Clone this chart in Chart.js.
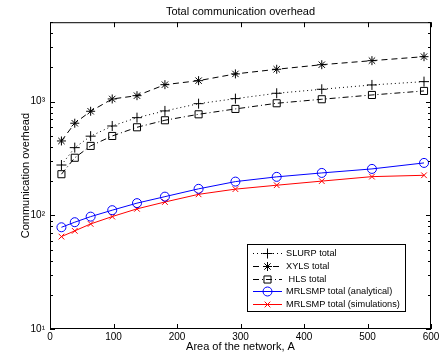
<!DOCTYPE html>
<html>
<head>
<meta charset="utf-8">
<script src="https://cdn.jsdelivr.net/npm/chart.js@4/dist/chart.umd.min.js"></script>
<style>
  html, body { margin: 0; padding: 0; background: #fff; }
</style>
</head>
<body>
<canvas id="chart" width="448" height="358"></canvas>
<script>
// Area of the network (x values)
const areas = [18, 39, 64, 98, 137, 181, 234, 292, 357, 428, 507, 589];

// Overhead per protocol
const slurpTotal = [277, 394, 497, 611, 723, 829, 960, 1063, 1185, 1285, 1403, 1500];
const xylsTotal  = [451, 646, 823, 1056, 1129, 1411, 1530, 1754, 1927, 2114, 2295, 2488];
const hlsTotal   = [230, 321, 408, 499, 595, 686, 774, 863, 968, 1050, 1145, 1242];
const mrlsmpAnalytical  = [78.5, 87, 97.4, 111, 128, 146, 171, 198, 218, 236, 256, 289];
const mrlsmpSimulations = [65, 73, 84, 97.5, 114, 131, 153, 170, 184, 200, 219, 225];

const seriesNames = ['SLURP total', 'XYLS total', ' HLS total', 'MRLSMP total (analytical)', 'MRLSMP total (simulations)'];
const xTicks = [0, 100, 200, 300, 400, 500, 600];
const yTicks = [10, 100, 1000];
const yTickLabels = ['10\u00b9', '10\u00b2', '10\u00b3'];

const FONT = 'Liberation Sans, Arial, Helvetica, sans-serif';

function pts(ys) {
    return areas.map((a, i) => ({ x: a, y: ys[i] }));
}

const datasets = [
    { label: seriesNames[0], data: pts(slurpTotal), borderColor: '#000', borderDash: [1, 3], pointStyle: 'cross', pointRadius: 5 },
    { label: seriesNames[1], data: pts(xylsTotal), borderColor: '#000', borderDash: [6, 4], pointStyle: 'star', pointRadius: 4.5 },
    { label: seriesNames[2], data: pts(hlsTotal), borderColor: '#000', borderDash: [6, 3, 1, 3], pointStyle: 'rect', pointRadius: 5 },
    { label: seriesNames[3], data: pts(mrlsmpAnalytical), borderColor: '#0000ff', borderDash: [], pointStyle: 'circle', pointRadius: 4.5 },
    { label: seriesNames[4], data: pts(mrlsmpSimulations), borderColor: '#ff0000', borderDash: [], pointStyle: 'crossRot', pointRadius: 4 }
].map(d => Object.assign(d, {
    borderWidth: 1,
    pointBorderColor: d.borderColor,
    pointBackgroundColor: 'rgba(0,0,0,0)',
    pointBorderWidth: 1,
    pointHoverRadius: d.pointRadius,
    tension: 0,
    fill: false
}));

// box, inward ticks and minor log ticks like matlab axes
const axesBox = {
    id: 'axesBox',
    afterDraw(chart) {
        const { ctx, chartArea: a } = chart;
        const xs = chart.scales.x, ys = chart.scales.y;
        ctx.save();
        ctx.strokeStyle = '#000';
        ctx.lineWidth = 1;
        ctx.strokeRect(a.left + 0.5, a.top + 0.5, a.right - a.left - 1, a.bottom - a.top - 1);
        ctx.beginPath();
        xTicks.forEach(v => {
            const px = Math.round(xs.getPixelForValue(v)) + 0.5;
            ctx.moveTo(px, a.bottom); ctx.lineTo(px, a.bottom - 5);
            ctx.moveTo(px, a.top); ctx.lineTo(px, a.top + 5);
        });
        for (let dec = 10; dec < 5000; dec *= 10) {
            for (let m = 1; m <= 9; m++) {
                const v = dec * m;
                if (v > 5000) break;
                const len = m === 1 ? 5 : 3;
                const py = Math.round(ys.getPixelForValue(v)) + 0.5;
                ctx.moveTo(a.left, py); ctx.lineTo(a.left + len, py);
                ctx.moveTo(a.right, py); ctx.lineTo(a.right - len, py);
            }
        }
        ctx.stroke();
        ctx.restore();
    }
};

// legend drawn inside the axes, lower right
const boxLegend = {
    id: 'boxLegend',
    afterDraw(chart) {
        const { ctx } = chart;
        const bx = 247, by = 244, bw = 158, bh = 67;
        ctx.save();
        ctx.fillStyle = '#fff';
        ctx.fillRect(bx, by, bw, bh);
        ctx.strokeStyle = '#000';
        ctx.lineWidth = 1;
        ctx.strokeRect(bx + 0.5, by + 0.5, bw, bh);
        chart.data.datasets.forEach((d, i) => {
            const y = by + 9 + i * 12.8;
            ctx.strokeStyle = d.borderColor;
            ctx.setLineDash(d.borderDash);
            ctx.beginPath();
            ctx.moveTo(253, Math.round(y) + 0.5);
            ctx.lineTo(282, Math.round(y) + 0.5);
            ctx.stroke();
            ctx.setLineDash([]);
            ctx.fillStyle = 'rgba(0,0,0,0)';
            Chart.helpers.drawPoint(ctx, { pointStyle: d.pointStyle, radius: d.pointRadius, borderWidth: 1, rotation: 0 }, 267.5, Math.round(y) + 0.5);
            ctx.fillStyle = '#000';
            ctx.font = '9.2px ' + FONT;
            ctx.textBaseline = 'middle';
            ctx.fillText(d.label, 286, y + 0.5);
        });
        ctx.restore();
    }
};

new Chart(document.getElementById('chart'), {
    type: 'line',
    data: { datasets: datasets },
    options: {
        responsive: false,
        animation: false,
        layout: { padding: { left: 0, right: 17, top: 0, bottom: 0 } },
        plugins: {
            legend: { display: false },
            tooltip: { enabled: false },
            title: {
                display: true,
                fullSize: false,
                text: 'Total communication overhead',
                color: '#000',
                font: { family: FONT, size: 11, weight: 'normal' },
                padding: { top: 5, bottom: 4 }
            }
        },
        scales: {
            x: {
                type: 'linear',
                min: 0,
                max: 600,
                afterFit: s => { s.height = 29; },
                afterBuildTicks: s => { s.ticks = xTicks.map(v => ({ value: v })); },
                grid: { display: false, drawTicks: false },
                border: { display: false },
                ticks: { color: '#000', padding: 2, maxRotation: 0, font: { family: FONT, size: 10 } },
                title: {
                    display: true,
                    text: 'Area of the network, A',
                    color: '#000',
                    font: { family: FONT, size: 11 },
                    padding: { top: 0, bottom: 4 }
                }
            },
            y: {
                type: 'logarithmic',
                min: 10,
                max: 5000,
                afterFit: s => { s.width = 50; },
                afterBuildTicks: s => { s.ticks = yTicks.map(v => ({ value: v })); },
                grid: { display: false, drawTicks: false },
                border: { display: false },
                ticks: {
                    color: '#000',
                    padding: 5,
                    font: { family: FONT, size: 10 },
                    callback: v => yTickLabels[yTicks.indexOf(v)]
                },
                title: {
                    display: true,
                    text: 'Communication overhead',
                    color: '#000',
                    font: { family: FONT, size: 11 },
                    padding: { top: 19, bottom: 0 }
                }
            }
        }
    },
    plugins: [axesBox, boxLegend]
});
</script>
</body>
</html>
